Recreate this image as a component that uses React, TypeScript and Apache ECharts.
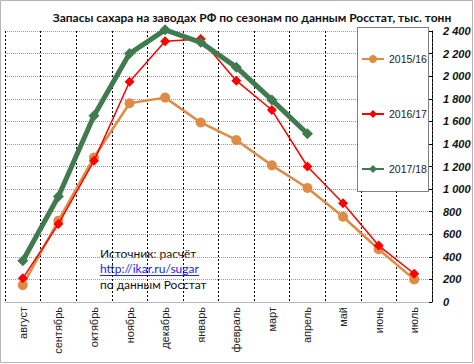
import React, { useEffect, useRef } from "react";
import * as echarts from "echarts";

const months = ["август", "сентябрь", "октябрь", "ноябрь", "декабрь", "январь", "февраль", "март", "апрель", "май", "июнь", "июль"];
const s1516 = [150, 720, 1280, 1760, 1810, 1590, 1435, 1210, 1010, 755, 467, 200];
const s1617 = [210, 690, 1250, 1950, 2310, 2330, 1960, 1700, 1200, 875, 500, 250];
const s1718 = [365, 935, 1650, 2200, 2410, 2300, 2080, 1790, 1490];
const seriesNames = ["2015/16", "2016/17", "2017/18"];
const titleText = "Запасы сахара на заводах РФ по сезонам по данным Росстат, тыс. тонн";
const noteLines = ["Источник: расчёт", "http://ikar.ru/sugar", "по данным Росстат"];

const uiFont = "Lato, 'Noto Sans', sans-serif";
const axFont = "'Liberation Sans', Arial, sans-serif";

export default function App() {
  const ref = useRef<HTMLDivElement>(null);
  useEffect(() => {
    if (!ref.current) return;
    const chart = echarts.init(ref.current, undefined, { renderer: "svg" });
    chart.setOption({
      animation: false,
      backgroundColor: "#ffffff",
      title: {
        text: titleText,
        left: 247,
        textAlign: "center",
        top: 6,
        textStyle: { fontFamily: uiFont, fontSize: 12, fontWeight: "bold", color: "#111" },
      },
      grid: { left: 5, right: 42, top: 31, bottom: 62 },
      legend: {
        orient: "vertical",
        left: 356,
        top: 47,
        z: 20,
        itemWidth: 22,
        itemHeight: 10,
        itemGap: 41,
        textStyle: { fontFamily: axFont, fontSize: 10.5, color: "#222", lineHeight: 14 },
        data: seriesNames,
      },
      xAxis: {
        type: "category",
        data: months,
        boundaryGap: true,
        axisLine: { show: true, lineStyle: { color: "#aaa", type: "dotted", width: 1 } },
        axisTick: { show: false },
        splitLine: { show: true, lineStyle: { color: "#000", type: [2, 2], width: 1 } },
        axisLabel: { rotate: 90, margin: 5, fontFamily: axFont, fontSize: 11, color: "#222" },
      },
      yAxis: {
        type: "value",
        position: "right",
        min: 0,
        max: 2400,
        interval: 200,
        axisLine: { show: true, lineStyle: { color: "#000", type: [1, 1], width: 1 } },
        axisTick: { show: true, inside: true, length: 3, lineStyle: { color: "#000" } },
        splitLine: { show: true, lineStyle: { color: "#999", type: [1, 1], width: 1 } },
        axisLabel: {
          margin: 11,
          fontFamily: axFont,
          fontSize: 11,
          fontWeight: "bold",
          fontStyle: "italic",
          color: "#111",
          formatter: (v: number) => String(v).replace(/\B(?=(\d{3})+(?!\d))/g, " "),
        },
      },
      graphic: [
        {
          type: "rect",
          shape: { x: 0.5, y: 0.5, width: 472, height: 362 },
          style: { fill: "none", stroke: "#b5b5b5", lineWidth: 1 },
          silent: true,
          z: 100,
        },
        {
          type: "rect",
          shape: { x: 357.5, y: 27.5, width: 71, height: 164 },
          style: { fill: "#fff", stroke: "#000", lineWidth: 1, lineDash: [1, 1] },
          z: 3,
        },
        {
          type: "group",
          z: 3,
          children: [
            { type: "rect", shape: { x: 95, y: 241, width: 121, height: 52 }, style: { fill: "#fff" } },
            { type: "text", x: 100, y: 253, style: { text: noteLines[0], fontFamily: uiFont, fontSize: 12, fill: "#111", verticalAlign: "middle" } },
            { type: "text", x: 100, y: 268.5, style: { text: noteLines[1], fontFamily: uiFont, fontSize: 12, fill: "#2222ee", verticalAlign: "middle" } },
            { type: "line", shape: { x1: 100, y1: 275.5, x2: 199, y2: 275.5 }, style: { stroke: "#2222ee", lineWidth: 1 } },
            { type: "text", x: 100, y: 284, style: { text: noteLines[2], fontFamily: uiFont, fontSize: 12, fill: "#111", verticalAlign: "middle" } },
          ],
        },
      ],
      series: [
        {
          name: seriesNames[0],
          type: "line",
          data: s1516,
          clip: false,
          z: 10,
          symbol: "circle",
          symbolSize: 10,
          itemStyle: { color: "#DE8B45" },
          lineStyle: { color: "#DE8B45", width: 2.5 },
        },
        {
          name: seriesNames[1],
          type: "line",
          data: s1617,
          clip: false,
          z: 11,
          symbol: "diamond",
          symbolSize: 10,
          itemStyle: { color: "#FF0000" },
          lineStyle: { color: "#FF0000", width: 1.5 },
        },
        {
          name: seriesNames[2],
          type: "line",
          data: s1718,
          clip: false,
          z: 12,
          symbol: "diamond",
          symbolSize: 11,
          itemStyle: { color: "#3F7B4E" },
          lineStyle: { color: "#3F7B4E", width: 5 },
        },
      ],
    });
    return () => chart.dispose();
  }, []);
  return <div ref={ref} style={{ position: "fixed", left: 0, top: 0, width: 474, height: 364 }} />;
}
